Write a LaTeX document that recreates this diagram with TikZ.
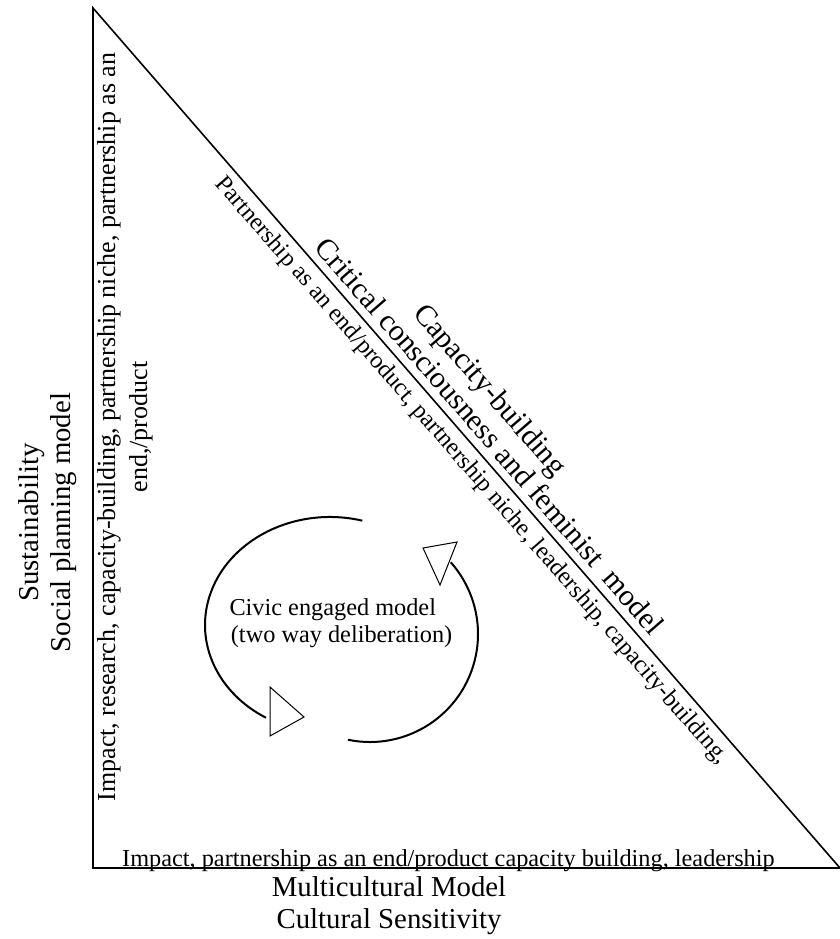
\documentclass[tikz,border=0pt]{standalone}
\usepackage{fontspec}
\setmainfont{Liberation Serif}
\usetikzlibrary{calc}

\begin{document}
\begin{tikzpicture}[
    x=1pt, y=1pt,
    edge/.style={line width=1.6pt, line join=miter},
    arcline/.style={line width=2pt},
    head/.style={draw, line width=1pt, fill=white, line join=miter},
    big text/.style={font=\fontsize{28.8}{31}\selectfont, inner sep=0pt},
    small text/.style={font=\fontsize{24.3}{28}\selectfont, inner sep=0pt},
    side text/.style={font=\fontsize{26}{30}\selectfont, inner sep=0pt, rotate=90, anchor=base},
    slope text/.style={font=\fontsize{30}{34}\selectfont, inner sep=0pt, rotate=-49, anchor=base west}
]
\useasboundingbox (0,0) rectangle (840,-939);

% ====================
% Triangolo
% ====================
\coordinate (T) at (93,-8);
\coordinate (O) at (93,-868);
\coordinate (R) at (840,-868);
\draw[edge] (T) -- (O) -- (R) -- cycle;

% ====================
% Testi sui lati
% ====================
% Lato verticale
\node[side text] (side1) at (115,-427) {Impact, research, capacity-building, partnership niche, partnership as an};
\node[side text] (side2) at (147,-427) {end,/product};

\node[big text, rotate=90, anchor=base] (sust) at (38.5,-522.5) {Sustainability};
\node[big text, rotate=90, anchor=base] (social) at (70,-522.5) {Social planning model};

% Lato orizzontale
\node[small text, anchor=base west] (bottom) at (122,-866) {Impact, partnership as an end/product capacity building, leadership};
\node[big text, anchor=base] (multi) at (389,-896.7) {Multicultural Model};
\node[big text, anchor=base] (sens) at (389,-928) {Cultural Sensitivity};

% Ipotenusa
\node[slope text] (capacity) at (411.9,-313.9) {Capacity-building};
\node[slope text] (critical) at (313.4,-248.4) {Critical consciousness and feminist\ \ model};
\node[slope text, font=\fontsize{24.3}{28}\selectfont] (partner) at (214.6,-184.5) {Partnership as an end/product, partnership niche, leadership, capacity-building,};

% ====================
% Ciclo centrale
% ====================
\node[small text, anchor=base west] (civic) at (229.3,-615) {Civic engaged model};
\node[small text, anchor=base west] (civic2) at (230.7,-642.7) {(two way deliberation)};

\coordinate (lc) at (330,-625);
\coordinate (rc) at (370,-634);
\draw[arcline] ($(lc)+(75:125 and 108)$) arc[start angle=75, end angle=239.2, x radius=125, y radius=108];
\draw[arcline] ($(rc)+(258.2:108)$) arc[start angle=258.2, end angle=401.6, radius=108];

% Punte aperte
\draw[head] (270,-687) -- (270,-736) -- (304,-717) -- cycle;
\draw[head] (423,-548) -- (457,-542) -- (440,-585) -- cycle;

\end{tikzpicture}
\end{document}
